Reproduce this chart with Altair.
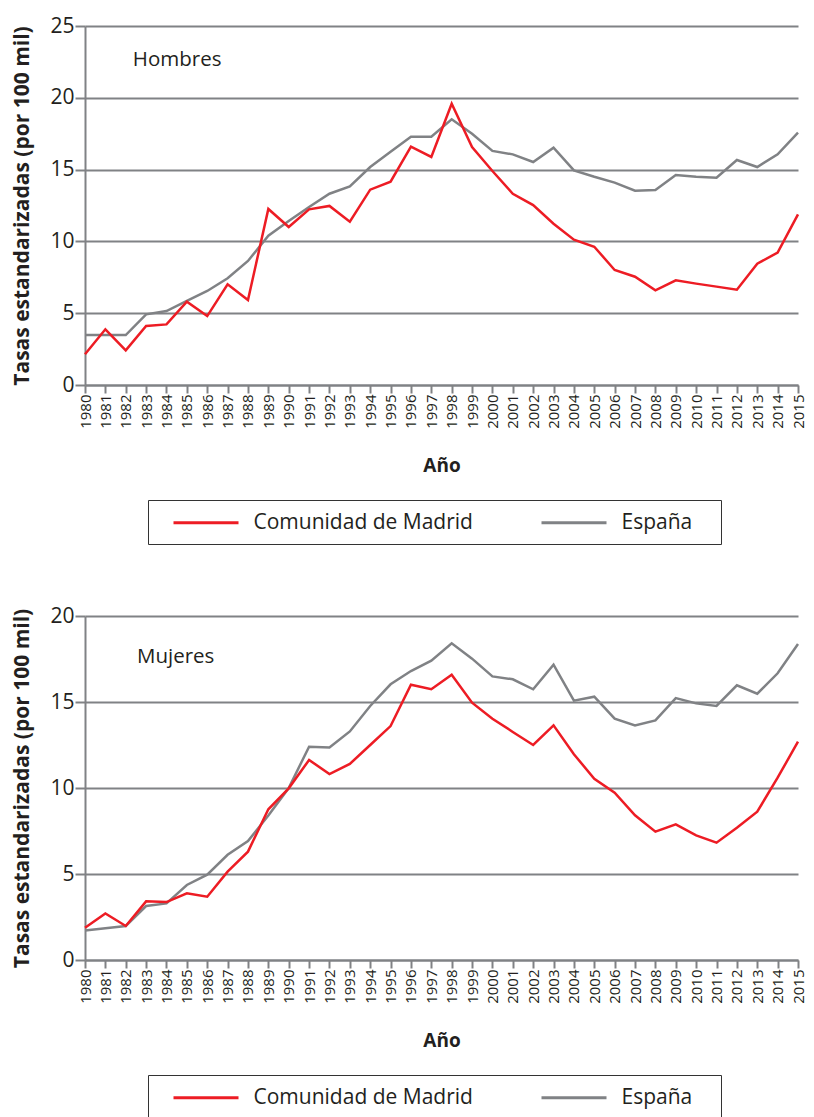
import altair as alt
import pandas as pd

years = list(range(1980, 2016))
series_names = ["Comunidad de Madrid", "España"]

madrid_h = [2.14, 3.88, 2.41, 4.11, 4.22, 5.80, 4.80, 7.01, 5.92, 12.26, 11.0, 12.23,
            12.47, 11.37, 13.60, 14.16, 16.60, 15.88, 19.59, 16.57, 14.9, 13.32, 12.53, 11.23,
            10.12, 9.63, 8.01, 7.54, 6.59, 7.29, 7.06, 6.85, 6.64, 8.45, 9.22, 11.88]
espana_h = [3.48, 3.48, 3.48, 4.92, 5.15, 5.85, 6.55, 7.43, 8.64, 10.4, 11.42, 12.4,
            13.32, 13.83, 15.18, 16.25, 17.29, 17.29, 18.5, 17.5, 16.3, 16.06, 15.53, 16.53,
            14.95, 14.5, 14.09, 13.53, 13.58, 14.62, 14.5, 14.44, 15.67, 15.18, 16.06, 17.57]
madrid_m = [1.88, 2.71, 1.98, 3.41, 3.37, 3.88, 3.68, 5.14, 6.30, 8.76, 9.98, 11.63,
            10.81, 11.40, 12.5, 13.6, 16.0, 15.74, 16.59, 14.96, 14.03, 13.26, 12.5, 13.64,
            11.96, 10.54, 9.73, 8.41, 7.46, 7.89, 7.25, 6.82, 7.69, 8.62, 10.6, 12.69]
espana_m = [1.72, 1.84, 1.98, 3.14, 3.29, 4.36, 4.96, 6.12, 6.92, 8.4, 10.0, 12.4,
            12.36, 13.29, 14.77, 16.03, 16.8, 17.4, 18.41, 17.52, 16.49, 16.32, 15.74, 17.17,
            15.08, 15.31, 14.03, 13.64, 13.93, 15.23, 14.92, 14.77, 15.97, 15.48, 16.67, 18.37]

panel_labels = ["Hombres", "Mujeres"]
label_pos_x = [1982.35, 1982.55]
label_pos_y = [22.6, 17.6]
y_max = [25, 20]

RED = "#ed1c24"
GRAY = "#808285"
FONT = "Open Sans"
TEXT = "#231f20"
W = 713


def make_df(madrid, espana):
    return pd.DataFrame({
        "Año": years * 2,
        "valor": madrid + espana,
        "serie": [series_names[0]] * len(years) + [series_names[1]] * len(years),
    })


def panel(df, label, lx, ly, ymax, height):
    x = alt.X("Año:Q",
              scale=alt.Scale(domain=[1980, 2015], nice=False, zero=False),
              axis=alt.Axis(values=years, format="d", labelAngle=270, title="Año",
                            grid=False, tickSize=8, tickWidth=2, tickColor=GRAY,
                            domainColor=GRAY, domainWidth=2, labelFontSize=15,
                            labelPadding=1, labelColor=TEXT, titleFontSize=19,
                            titleFontWeight="bold", titlePadding=28, titleColor=TEXT,
                            labelFont=FONT, titleFont=FONT, labelFlush=False,
                            labelOverlap=False, labelBound=False))
    y = alt.Y("valor:Q",
              scale=alt.Scale(domain=[0, ymax], nice=False),
              axis=alt.Axis(values=list(range(0, ymax + 1, 5)),
                            title="Tasas estandarizadas (por 100 mil)",
                            grid=True, gridColor=GRAY, gridWidth=2,
                            tickSize=10, tickWidth=2, tickColor=GRAY,
                            domainColor=GRAY, domainWidth=2,
                            labelFontSize=21, labelPadding=1, labelColor=TEXT,
                            titleFontSize=21, titleFontWeight="bold", titlePadding=17,
                            titleColor=TEXT, labelFont=FONT, titleFont=FONT))
    color = alt.Color("serie:N",
                      scale=alt.Scale(domain=series_names, range=[RED, GRAY]),
                      legend=alt.Legend(orient="none", legendX=63, legendY=height + 115,
                                        direction="horizontal", title=" ",
                                        titleOrient="right", titleFontSize=2,
                                        titlePadding=18,
                                        symbolType="M-3.25,0L3.25,0", symbolSize=400,
                                        symbolStrokeWidth=3, symbolOffset=35.5,
                                        labelOffset=36, columnPadding=54,
                                        labelFontSize=21, labelFont=FONT,
                                        labelColor=TEXT, padding=11,
                                        strokeColor="#333333", fillColor="white",
                                        labelLimit=400))
    base = alt.Chart(df)
    gray_line = base.transform_filter(alt.datum.serie == series_names[1]).mark_line(
        strokeWidth=2.5).encode(x=x, y=y, color=color)
    red_line = base.transform_filter(alt.datum.serie == series_names[0]).mark_line(
        strokeWidth=2.5).encode(x=x, y=y, color=color)
    lab_df = pd.DataFrame({"Año": [lx], "valor": [ly], "t": [label]})
    text = alt.Chart(lab_df).mark_text(align="left", baseline="middle", fontSize=20.5,
                                        font=FONT, color=TEXT).encode(
        x=x, y=y, text="t:N")
    return alt.layer(gray_line, red_line, text).properties(width=W, height=height)


top = panel(make_df(madrid_h, espana_h), panel_labels[0], label_pos_x[0], label_pos_y[0],
            y_max[0], 359)
bottom = panel(make_df(madrid_m, espana_m), panel_labels[1], label_pos_x[1], label_pos_y[1],
               y_max[1], 344)

chart = alt.vconcat(top, bottom, spacing=60).resolve_scale(
    color="independent"
).resolve_legend(color="independent").properties(
    padding={"left": 3, "top": 7, "right": 0, "bottom": 5}
).configure_view(stroke=None).configure_axis(labelOverlap=False)

chart.save("out.html", embed_options={"renderer": "svg", "actions": False})
